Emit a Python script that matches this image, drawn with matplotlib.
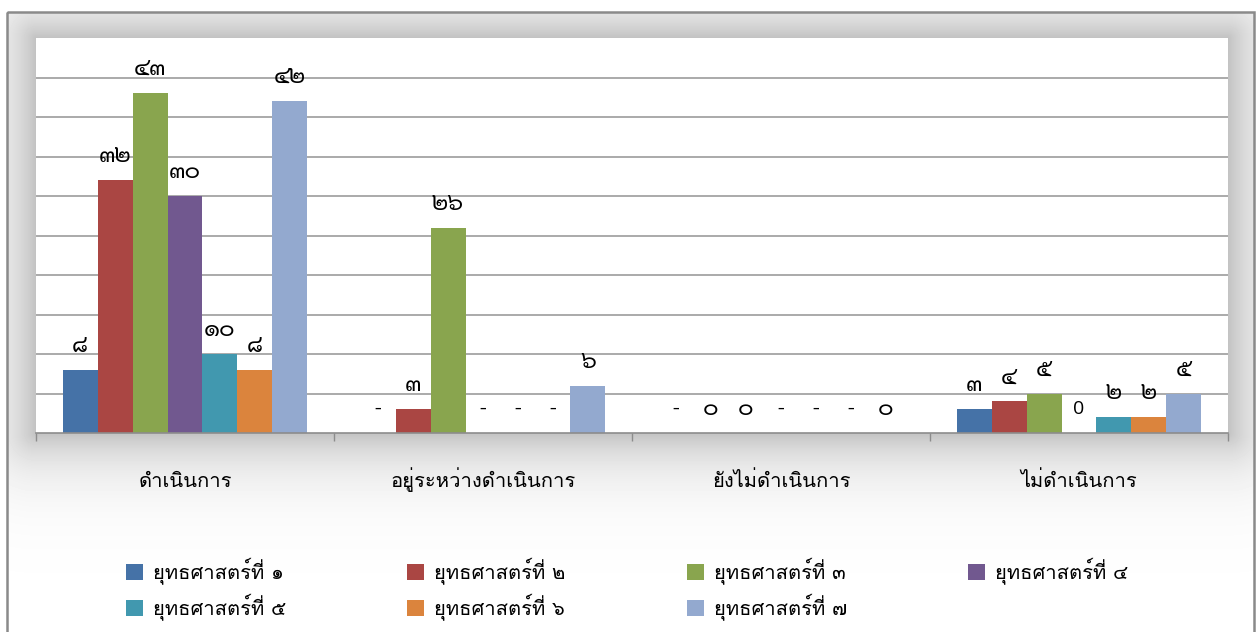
import numpy as np
import matplotlib
matplotlib.use("Agg")
import matplotlib.pyplot as plt
from matplotlib.patches import Patch, Rectangle

# ---------------- data ----------------
categories = ["ดำเนินการ", "อยู่ระหว่างดำเนินการ", "ยังไม่ดำเนินการ", "ไม่ดำเนินการ"]
series_names = ["ยุทธศาสตร์ที่ ๑", "ยุทธศาสตร์ที่ ๒", "ยุทธศาสตร์ที่ ๓", "ยุทธศาสตร์ที่ ๔",
                "ยุทธศาสตร์ที่ ๕", "ยุทธศาสตร์ที่ ๖", "ยุทธศาสตร์ที่ ๗"]
s1 = [8, 0, 0, 3]
s2 = [32, 3, 0, 4]
s3 = [43, 26, 0, 5]
s4 = [30, 0, 0, 0]
s5 = [10, 0, 0, 2]
s6 = [8, 0, 0, 2]
s7 = [42, 6, 0, 5]
values = [s1, s2, s3, s4, s5, s6, s7]
# data-label texts as shown on the chart
l1 = ["๘", "-", "-", "๓"]
l2 = ["๓๒", "๓", "๐", "๔"]
l3 = ["๔๓", "๒๖", "๐", "๕"]
l4 = ["๓๐", "-", "-", "0"]
l5 = ["๑๐", "-", "-", "๒"]
l6 = ["๘", "-", "-", "๒"]
l7 = ["๔๒", "๖", "๐", "๕"]
labels = [l1, l2, l3, l4, l5, l6, l7]
colors = ["#4572A7", "#AA4643", "#89A54E", "#71588F", "#4198AF", "#DB843D", "#93A9CF"]

THAI = ["Loma", "DejaVu Sans"]
DIGITS = ["Sarabun", "DejaVu Sans"]

W, H = 1258, 632
fig = plt.figure(figsize=(W / 100, H / 100), dpi=100)
fig.patch.set_facecolor("white")

# plot-area rectangle in pixels
L, R, T, B = 36, 1228, 38, 433

# ---------- background frame with soft shadow ----------
bg = fig.add_axes([0, 0, 1, 1], zorder=0)
bg.set_xlim(0, W)
bg.set_ylim(H, 0)
bg.axis("off")
yy, xx = np.mgrid[0:H, 0:W] + 0.5
dx = np.maximum(np.maximum(L - xx, 0), xx - R)
dy = np.maximum(np.maximum(T - yy, 0), yy - B)
d = np.sqrt(dx ** 2 + dy ** 2)
shade = 1 - 0.24 * np.exp(-d / 34.0)
outside = (xx < 7) | (xx > 1254) | (yy < 12)
shade[outside] = 1.0
bg.imshow(shade, cmap="gray", vmin=0, vmax=1, extent=(0, W, H, 0),
          interpolation="bilinear", aspect="auto")
bg.add_patch(Rectangle((7, 12), 1247, 640, fill=False, edgecolor="#8a8a8a", lw=1.8))

# ---------------- main axes ----------------
ax = fig.add_axes([L / W, 1 - B / H, (R - L) / W, (B - T) / H], zorder=1)
ax.set_facecolor("white")
n_series = len(values)
x = np.arange(len(categories))
group_w = 0.822
bw = group_w / n_series
for i, (vals, labs, c) in enumerate(zip(values, labels, colors)):
    pos = x - group_w / 2 + bw * (i + 0.5)
    ax.bar(pos, vals, width=bw, color=c, edgecolor="none", zorder=2, label=series_names[i])
    for px_, v, t in zip(pos, vals, labs):
        if t == "0":
            fam, fs = ["Open Sans", "DejaVu Sans"], 14
        elif t == "-":
            fam, fs = DIGITS, 14
        else:
            fam, fs = DIGITS, 17
        ax.annotate(t, (px_, v), xytext=(0, 17.5), textcoords="offset points",
                    ha="center", va="center", fontsize=fs, family=fam, color="black", zorder=3)

ax.set_ylim(0, 50)
ax.set_yticks(np.arange(5, 50, 5))
ax.yaxis.grid(True, color="#9c9c9c", lw=1.2)
ax.set_axisbelow(True)
ax.tick_params(axis="y", length=0, labelleft=False)
ax.set_xlim(-0.5, len(categories) - 0.5)
ax.set_xticks(np.arange(-0.5, len(categories), 1.0))
ax.set_xticklabels([])
ax.set_xticks(x, minor=True)
ax.set_xticklabels(categories, minor=True, family=THAI, fontsize=14.5, va="baseline")
ax.tick_params(axis="x", which="major", length=6, direction="out", color="#8c8c8c", width=1)
ax.tick_params(axis="x", which="minor", length=0, pad=39)
for s in ["top", "right", "left"]:
    ax.spines[s].set_visible(False)
ax.spines["bottom"].set_color("#8c8c8c")
ax.spines["bottom"].set_linewidth(1.2)

# ---------------- legend ----------------
handles = [Patch(facecolor=c, edgecolor="none") for c in colors]
order = [0, 4, 1, 5, 2, 6, 3]
fig.legend([handles[i] for i in order], [series_names[i] for i in order],
           ncol=4, loc="upper left", bbox_to_anchor=(126 / W, 1 - 558 / H),
           frameon=False, prop={"family": THAI, "size": 14.5},
           handlelength=0.85, handleheight=0.85, handletextpad=0.5,
           columnspacing=6.0, labelspacing=0.45, borderpad=0, borderaxespad=0)

fig.savefig("out.png", dpi=100, facecolor="white")
